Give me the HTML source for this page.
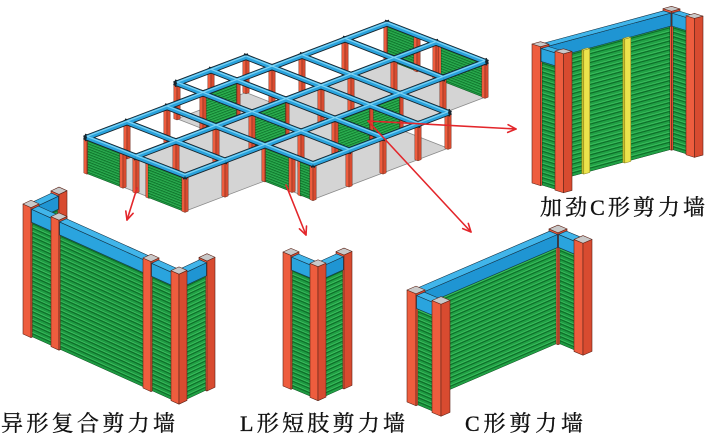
<!DOCTYPE html>
<html><head><meta charset="utf-8">
<style>
html,body{margin:0;padding:0;background:#fff;}
svg{display:block;}
text{font-family:"Liberation Serif","Noto Serif CJK SC","Noto Sans CJK SC",serif;font-size:22px;fill:#111;stroke:#111;stroke-width:0.35;}
</style></head><body>
<svg id="svg" xmlns="http://www.w3.org/2000/svg" width="709" height="437" viewBox="0 0 709 437">
<rect width="709" height="437" fill="#ffffff"/>
<g id="art"></g>
<g stroke="#e3262b" stroke-width="1.6" fill="none" stroke-linecap="round" stroke-linejoin="round">
 <line x1="368" y1="121" x2="516" y2="129"/>
 <polyline points="508.1,124.7 516,129 507.7,132.4"/>
 <line x1="368" y1="121" x2="471" y2="232"/>
 <polyline points="468.3,223.4 471,232 462.7,228.6"/>
 <line x1="286" y1="185" x2="306" y2="235"/>
 <polyline points="306.5,226 306,235 299.4,228.8"/>
 <line x1="137" y1="188" x2="127" y2="220"/>
 <polyline points="133.1,213.3 127,220 125.8,211.1"/>
</g>
<text x="540" y="215" textLength="165" lengthAdjust="spacing">加劲C形剪力墙</text>
<text x="1" y="431" textLength="174" lengthAdjust="spacing">异形复合剪力墙</text>
<text x="240" y="431" textLength="165" lengthAdjust="spacing">L形短肢剪力墙</text>
<text x="465" y="431" textLength="118" lengthAdjust="spacing">C形剪力墙</text>
</svg>
<script>
(function(){
var NS='http://www.w3.org/2000/svg';
var root=document.getElementById('art');
function el(tag,at){var e=document.createElementNS(NS,tag);for(var k in at)e.setAttribute(k,at[k]);root.appendChild(e);return e;}
function f(n){return Math.round(n*100)/100;}
function pts(a){return a.map(function(p){return f(p[0])+','+f(p[1]);}).join(' ');}
function mk(gx,gy,sa,sb){return function(a,b,z){return [gx+a+b,gy+a*sa+b*sb-z];};}
var COL={top:'#c9c9c9',front:'#d84b30',left:'#ee5d3e',st:'#5e2418'};
var GRN={top:'#1b8f3a',front:'#21a145',left:'#1e9a42',st:'#0a4d1c'};
var BLU={top:'#41b5ea',front:'#1f95d3',left:'#2aa4de',st:'#143448'};
var YEL={top:'#f4ee7a',front:'#ece34c',left:'#c7bd2c',st:'#857f1c'};
function poly(p,fill,st,sw){el('polygon',{points:pts(p),fill:fill,stroke:st,'stroke-width':sw,'stroke-linejoin':'round'});}
function box(P,a0,a1,b0,b1,z0,z1,c,sw){
 if(sw===undefined)sw=0.6;
 poly([P(a0,b0,z0),P(a0,b1,z0),P(a0,b1,z1),P(a0,b0,z1)],c.left,c.st,sw);
 poly([P(a0,b1,z0),P(a1,b1,z0),P(a1,b1,z1),P(a0,b1,z1)],c.front,c.st,sw);
 poly([P(a0,b0,z1),P(a1,b0,z1),P(a1,b1,z1),P(a0,b1,z1)],c.top,c.st,sw);
}
function line(p,q,col,w){el('line',{x1:f(p[0]),y1:f(p[1]),x2:f(q[0]),y2:f(q[1]),stroke:col,'stroke-width':w});}
function wall(P,a0,a1,b0,b1,z0,z1,step,lw){
 box(P,a0,a1,b0,b1,z0,z1,GRN,0.5);
 lw=lw||1;
 for(var z=z0+step*0.7; z<z1-step*0.3; z+=step){
   if(a1-a0>2.5){ line(P(a0,b1,z),P(a1,b1,z),'#0d6a27',lw); line(P(a0,b1,z+lw*1.4),P(a1,b1,z+lw*1.4),'#46c667',lw*0.6);}
   if(b1-b0>2.5){ line(P(a0,b0,z),P(a0,b1,z),'#0d6a27',lw); line(P(a0,b0,z+lw*1.4),P(a0,b1,z+lw*1.4),'#46c667',lw*0.6);}
 }
}
function group(P,H,c,cols,segs,extra,step){
 var bt=2,hb=13,zw=H-bt-hb;
 var t0=(c-5)/2,t1=t0+5,w0=0.6,w1=c-0.6;
 var items=[];
 cols.forEach(function(q){var a=q[0],b=q[1];items.push([b-a,function(){box(P,a,a+c,b,b+c,0,H,COL,0.6);}]);});
 segs.forEach(function(s){
   var a0=s[0],b0=s[1],a1=s[2],b1=s[3];
   if(b0===b1){
     var A0=a0+c,A1=a1;
     items.push([b0+c/2-(A0+A1)/2,function(){wall(P,A0,A1,b0+t0,b0+t1,0,zw,step);box(P,A0,A1,b0+w0,b0+w1,zw,H-bt,BLU,0.6);}]);
   } else {
     var B0=b0+c,B1=b1;
     items.push([(B0+B1)/2-(a0+c/2),function(){wall(P,a0+t0,a0+t1,B0,B1,0,zw,step);box(P,a0+w0,a0+w1,B0,B1,zw,H-bt,BLU,0.6);}]);
   }
 });
 (extra||[]).forEach(function(x){items.push(x);});
 items.sort(function(x,y){return x[0]-y[0];});
 items.forEach(function(x){x[1]();});
}

/* ---------- building ---------- */
var Pb=mk(87,173,-0.38,0.39),Hb=38;
var floor=[[0,0],[116,0],[116,-26],[185,-26],[185,0],[300,0],[300,98],[215,98],[215,146],[80,146],[80,98],[0,98]];
poly(floor.map(function(q){return Pb(q[0],q[1],0);}),'#d4d4d4','#8a8a8a',0.8);
var AL=[0,40,80,116,150,185,215,258,300],BLn=[-26,0,49,98,146];
var rects=[[0,300,0,98],[116,185,-26,0],[80,215,98,146]];
function inside(a,b){return rects.some(function(r){return a>=r[0]&&a<=r[1]&&b>=r[2]&&b<=r[3];});}
var zt=Hb-3,s=1.6,items=[];
function bc(a,b){items.push([b-a,function(){box(Pb,a-s,a+s,b-s,b+s,0,zt,COL,0.4);}]);}
AL.forEach(function(a){BLn.forEach(function(b){if(inside(a,b))bc(a,b);});});
[[0,36],[0,62],[80,125],[80,134],[300,30],[300,55]].forEach(function(q){bc(q[0],q[1]);});
function bwB(a,b0,b1){items.push([(b0+b1)/2-a,function(){wall(Pb,a-0.8,a+0.8,b0,b1,0,zt,2.6,0.6);}]);}
function bwA(b,a0,a1){items.push([b-(a0+a1)/2,function(){wall(Pb,a0,a1,b-0.8,b+0.8,0,zt,2.6,0.6);}]);}
bwB(0,1.6,36);bwB(0,62,96.4);bwB(80,99.6,125);bwB(80,134,144.4);bwB(300,1.6,30);bwB(300,55,96.4);
bwA(98,151.6,183.4);bwA(98,186.6,213.4);bwA(49,117.6,148.4);bwA(0,117.6,148.4);
items.sort(function(x,y){return x[0]-y[0];});
items.forEach(function(x){x[1]();});
var bs=[];
BLn.forEach(function(b){for(var i=0;i<AL.length-1;i++){var m=(AL[i]+AL[i+1])/2;if(inside(m,b))bs.push([AL[i],b,AL[i+1],b]);}});
AL.forEach(function(a){for(var j=0;j<BLn.length-1;j++){var m=(BLn[j]+BLn[j+1])/2;if(inside(a,m))bs.push([a,BLn[j],a,BLn[j+1]]);}});
var zb=Hb-2.5;
[['#16252e',6],['#2aa3dd',4.2],['#7fd3f3',1.2]].forEach(function(cw,k){
  bs.forEach(function(sg){
    var p=Pb(sg[0],sg[1],zb),q=Pb(sg[2],sg[3],zb),dy=(k===2)?-1.1:0;
    el('line',{x1:f(p[0]),y1:f(p[1]+dy),x2:f(q[0]),y2:f(q[1]+dy),stroke:cw[0],'stroke-width':cw[1],'stroke-linecap':k===0?'square':'butt'});
  });
});

/* ---------- composite wall ---------- */
group(mk(23,334,-0.47,0.45),130,8,
 [[0,0],[28,0],[0,28],[0,120],[0,148],[28,148]],
 [[0,0,28,0],[0,0,0,28],[0,28,0,120],[0,120,0,148],[0,148,28,148]],null,4.4);

/* ---------- L wall ---------- */
group(mk(283,386,-0.45,0.42),134,8,
 [[0,0],[0,27],[26,27]],
 [[0,0,0,27],[0,27,26,27]],null,4.4);

/* ---------- C wall ---------- */
group(mk(407,402,-0.43,0.42),112,9,
 [[0,0],[142,0],[0,25],[142,25]],
 [[0,0,142,0],[0,0,0,25],[142,0,142,25]],null,4.3);

/* ---------- stiffened C wall ---------- */
(function(){
 var P=mk(532,183,-0.27,0.31),H=139,c=8.5,zw=H-15,t1=(c-5)/2+5;
 var ex=[[-65,function(){box(P,43,49,t1,c+0.3,0,zw,YEL,0.5);}],
         [-64.9,function(){box(P,84,90,t1,c+0.3,0,zw,YEL,0.5);}]];
 group(P,H,c,[[0,0],[131,0],[0,23],[131,23]],
  [[0,0,131,0],[0,0,0,23],[131,0,131,23]],ex,4.4);
})();
})();
</script>
</body></html>
